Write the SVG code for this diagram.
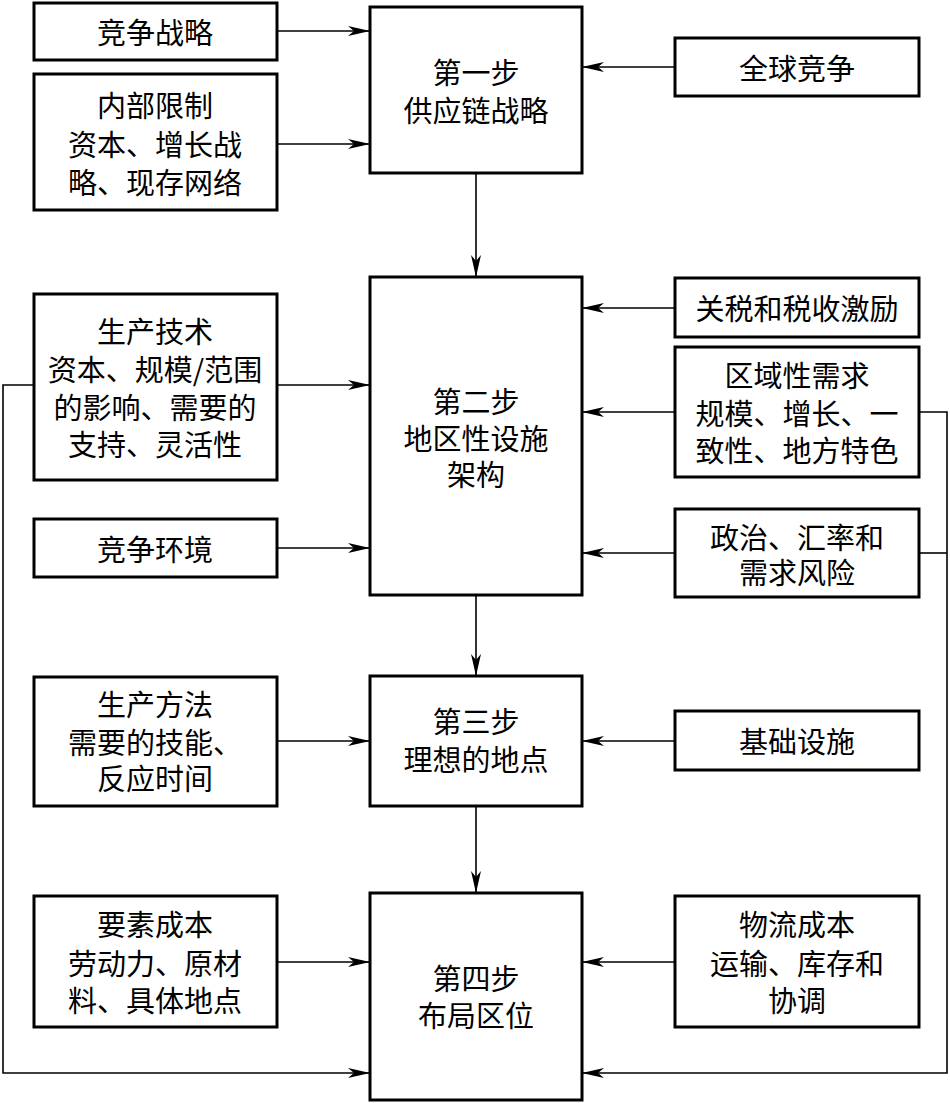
<svg xmlns="http://www.w3.org/2000/svg" width="950" height="1103" viewBox="0 0 950 1103">
<defs>
<marker id="ah" markerUnits="userSpaceOnUse" markerWidth="24" markerHeight="12" refX="22" refY="5" orient="auto">
<path d="M0,0 L22,5 L0,10 L6,5 z" fill="#000"/>
</marker>
<style>
.box{fill:#fff;stroke:#000;stroke-width:3}
.t{font-family:"Noto Sans CJK SC","Liberation Serif",serif;font-size:29px;fill:#000;text-anchor:middle;dominant-baseline:central}
.c{fill:none;stroke:#000;stroke-width:1.6}
</style>
</defs>
<rect width="950" height="1103" fill="#fff"/>
<g id="connectors">
<line class="c" x1="277" y1="31" x2="370" y2="31" marker-end="url(#ah)"/>
<line class="c" x1="277" y1="144" x2="370" y2="144" marker-end="url(#ah)"/>
<line class="c" x1="277" y1="385" x2="370" y2="385" marker-end="url(#ah)"/>
<line class="c" x1="277" y1="548" x2="370" y2="548" marker-end="url(#ah)"/>
<line class="c" x1="277" y1="741" x2="370" y2="741" marker-end="url(#ah)"/>
<line class="c" x1="277" y1="962" x2="370" y2="962" marker-end="url(#ah)"/>
<line class="c" x1="675" y1="67" x2="582" y2="67" marker-end="url(#ah)"/>
<line class="c" x1="675" y1="308" x2="582" y2="308" marker-end="url(#ah)"/>
<line class="c" x1="675" y1="412" x2="582" y2="412" marker-end="url(#ah)"/>
<line class="c" x1="675" y1="553" x2="582" y2="553" marker-end="url(#ah)"/>
<line class="c" x1="675" y1="741" x2="582" y2="741" marker-end="url(#ah)"/>
<line class="c" x1="675" y1="962" x2="582" y2="962" marker-end="url(#ah)"/>
<line class="c" x1="476" y1="173" x2="476" y2="277" marker-end="url(#ah)"/>
<line class="c" x1="476" y1="595" x2="476" y2="676" marker-end="url(#ah)"/>
<line class="c" x1="476" y1="806" x2="476" y2="893" marker-end="url(#ah)"/>
<polyline class="c" points="34,385 3,385 3,1073 370,1073" marker-end="url(#ah)"/>
<polyline class="c" points="919,412 947,412 947,1073 582,1073" marker-end="url(#ah)"/>
<line class="c" x1="919" y1="553" x2="947" y2="553"/>
</g>
<g id="n_jzzl"><rect class="box" x="34" y="3" width="243" height="57"/><text class="t" x="155" y="31">竞争战略</text></g>
<g id="n_nbxz"><rect class="box" x="34" y="74" width="243" height="136"/><text class="t" x="155" y="104">内部限制</text><text class="t" x="155" y="143">资本、增长战</text><text class="t" x="155" y="181">略、现存网络</text></g>
<g id="n_scjs"><rect class="box" x="34" y="294" width="243" height="186"/><text class="t" x="155" y="330">生产技术</text><text class="t" x="155" y="368">资本、规模/范围</text><text class="t" x="155" y="406">的影响、需要的</text><text class="t" x="155" y="443">支持、灵活性</text></g>
<g id="n_jzhj"><rect class="box" x="34" y="519" width="243" height="58"/><text class="t" x="155" y="548">竞争环境</text></g>
<g id="n_scff"><rect class="box" x="34" y="677" width="243" height="129"/><text class="t" x="155" y="703">生产方法</text><text class="t" x="155" y="741">需要的技能、</text><text class="t" x="155" y="777">反应时间</text></g>
<g id="n_yscb"><rect class="box" x="34" y="896" width="243" height="131"/><text class="t" x="155" y="923">要素成本</text><text class="t" x="155" y="962">劳动力、原材</text><text class="t" x="155" y="999">料、具体地点</text></g>
<g id="n_step1"><rect class="box" x="370" y="7" width="212" height="166"/><text class="t" x="476" y="71">第一步</text><text class="t" x="476" y="109">供应链战略</text></g>
<g id="n_step2"><rect class="box" x="370" y="277" width="212" height="318"/><text class="t" x="476" y="400">第二步</text><text class="t" x="476" y="437">地区性设施</text><text class="t" x="476" y="473">架构</text></g>
<g id="n_step3"><rect class="box" x="370" y="676" width="212" height="130"/><text class="t" x="476" y="720">第三步</text><text class="t" x="476" y="758">理想的地点</text></g>
<g id="n_step4"><rect class="box" x="370" y="893" width="212" height="207"/><text class="t" x="476" y="977">第四步</text><text class="t" x="476" y="1014">布局区位</text></g>
<g id="n_qqjz"><rect class="box" x="675" y="38" width="244" height="58"/><text class="t" x="797" y="67">全球竞争</text></g>
<g id="n_gs"><rect class="box" x="675" y="278" width="244" height="59"/><text class="t" x="797" y="307">关税和税收激励</text></g>
<g id="n_qyxq"><rect class="box" x="675" y="347" width="244" height="130"/><text class="t" x="797" y="374">区域性需求</text><text class="t" x="797" y="412">规模、增长、一</text><text class="t" x="797" y="449">致性、地方特色</text></g>
<g id="n_zz"><rect class="box" x="675" y="509" width="244" height="88"/><text class="t" x="797" y="536">政治、汇率和</text><text class="t" x="797" y="571">需求风险</text></g>
<g id="n_jcss"><rect class="box" x="675" y="711" width="244" height="59"/><text class="t" x="797" y="740">基础设施</text></g>
<g id="n_wlcb"><rect class="box" x="675" y="896" width="244" height="131"/><text class="t" x="797" y="923">物流成本</text><text class="t" x="797" y="962">运输、库存和</text><text class="t" x="797" y="999">协调</text></g>
</svg>
